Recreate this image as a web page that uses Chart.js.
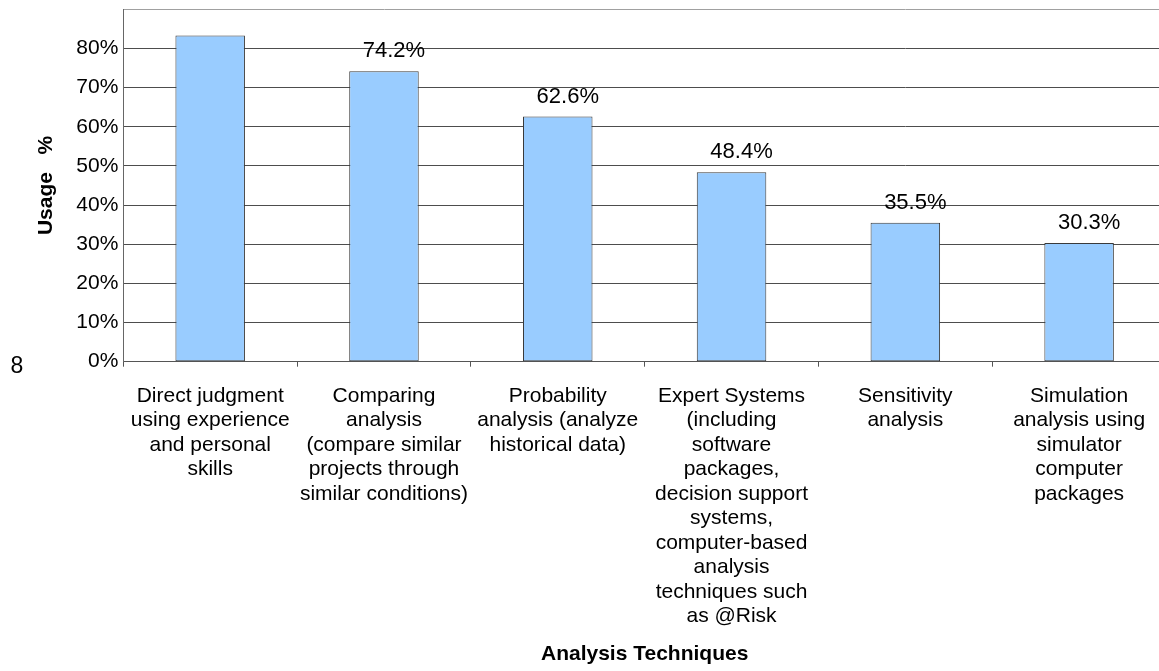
<!DOCTYPE html>
<html>
<head>
<meta charset="utf-8">
<script src="https://cdn.jsdelivr.net/npm/chart.js@4/dist/chart.umd.min.js"></script>
<style>
  html, body { margin: 0; padding: 0; background: #ffffff; overflow: hidden; }
  #wrap { width: 1172px; height: 671px; }
</style>
</head>
<body>
<div id="wrap"><canvas id="chart" width="1172" height="671"></canvas></div>
<script>
// Usage of risk analysis techniques (percent of respondents)
const techniques = [
  ['Direct judgment', 'using experience', 'and personal', 'skills'],
  ['Comparing', 'analysis', '(compare similar', 'projects through', 'similar conditions)'],
  ['Probability', 'analysis (analyze', 'historical data)'],
  ['Expert Systems', '(including', 'software', 'packages,', 'decision support', 'systems,', 'computer-based', 'analysis', 'techniques such', 'as @Risk'],
  ['Sensitivity', 'analysis'],
  ['Simulation', 'analysis using', 'simulator', 'computer', 'packages']
];
const usage = [83.3, 74.2, 62.6, 48.4, 35.5, 30.3];
const showValue = [false, true, true, true, true, true];
const yTicks = [0, 10, 20, 30, 40, 50, 60, 70, 80, 90];
const yTopUnlabelled = 90;

const FONT = '"Liberation Sans", Arial, Helvetica, sans-serif';

// value labels above the bars
const valueLabels = {
  id: 'valueLabels',
  afterDatasetsDraw(chart) {
    const { ctx } = chart;
    const meta = chart.getDatasetMeta(0);
    ctx.save();
    ctx.font = '22px ' + FONT;
    ctx.fillStyle = '#000000';
    ctx.textAlign = 'center';
    ctx.textBaseline = 'middle';
    meta.data.forEach((bar, i) => {
      if (!showValue[i]) return;
      ctx.fillText(usage[i].toFixed(1) + '%', bar.x + 10, bar.y - 20);
    });
    ctx.restore();
  }
};

// stray page number at the left margin
const pageMark = {
  id: 'pageMark',
  afterDraw(chart) {
    const { ctx } = chart;
    ctx.save();
    ctx.font = '23px ' + FONT;
    ctx.fillStyle = '#000000';
    ctx.textAlign = 'center';
    ctx.textBaseline = 'middle';
    ctx.fillText('8', 17, 367);
    ctx.restore();
  }
};

new Chart(document.getElementById('chart'), {
  type: 'bar',
  data: {
    labels: techniques,
    datasets: [{
      data: usage,
      backgroundColor: '#99ccff',
      borderColor: '#3a3a3a',
      borderWidth: 1,
      borderSkipped: false,
      categoryPercentage: 1.0,
      barPercentage: 0.4
    }]
  },
  options: {
    responsive: false,
    animation: false,
    devicePixelRatio: 1,
    layout: { padding: { left: 0, right: 6, top: 0, bottom: 0 } },
    plugins: {
      legend: { display: false },
      tooltip: { enabled: false }
    },
    scales: {
      x: {
        offset: true,
        grid: {
          offset: true,
          drawOnChartArea: false,
          drawTicks: true,
          tickLength: 5,
          color: '#555555'
        },
        border: { display: true, color: '#555555', width: 1 },
        ticks: {
          color: '#000000',
          font: { family: FONT, size: 21, lineHeight: 1.1667 },
          padding: 17,
          maxRotation: 0,
          autoSkip: false
        },
        title: {
          display: true,
          text: 'Analysis Techniques',
          color: '#000000',
          font: { family: FONT, size: 21, weight: 'bold', lineHeight: 1.2 },
          padding: { top: 0, bottom: 4 }
        },
        afterFit(scale) { scale.height = 309.3; }
      },
      y: {
        min: 0,
        max: 90,
        afterBuildTicks(scale) { scale.ticks = yTicks.map(v => ({ value: v })); },
        grid: {
          drawTicks: false,
          color: ctx => (ctx.tick && ctx.tick.value === yTopUnlabelled) ? '#a0a0a0' : '#4d4d4d',
          lineWidth: 1
        },
        border: { display: true, color: '#666666', width: 1 },
        ticks: {
          color: ctx => (ctx.tick && ctx.tick.value === yTopUnlabelled) ? 'rgba(0,0,0,0)' : '#000000',
          font: { family: FONT, size: 21, lineHeight: 0.41 },
          padding: 5,
          autoSkip: false,
          callback: v => v + '%'
        },
        title: {
          display: true,
          text: 'Usage   %',
          color: '#000000',
          font: { family: FONT, size: 21, weight: 'bold', lineHeight: 1.2 },
          padding: { top: 34, bottom: 0 }
        },
        afterFit(scale) { scale.width = 123.3; }
      }
    }
  },
  plugins: [valueLabels, pageMark]
});
</script>
</body>
</html>
